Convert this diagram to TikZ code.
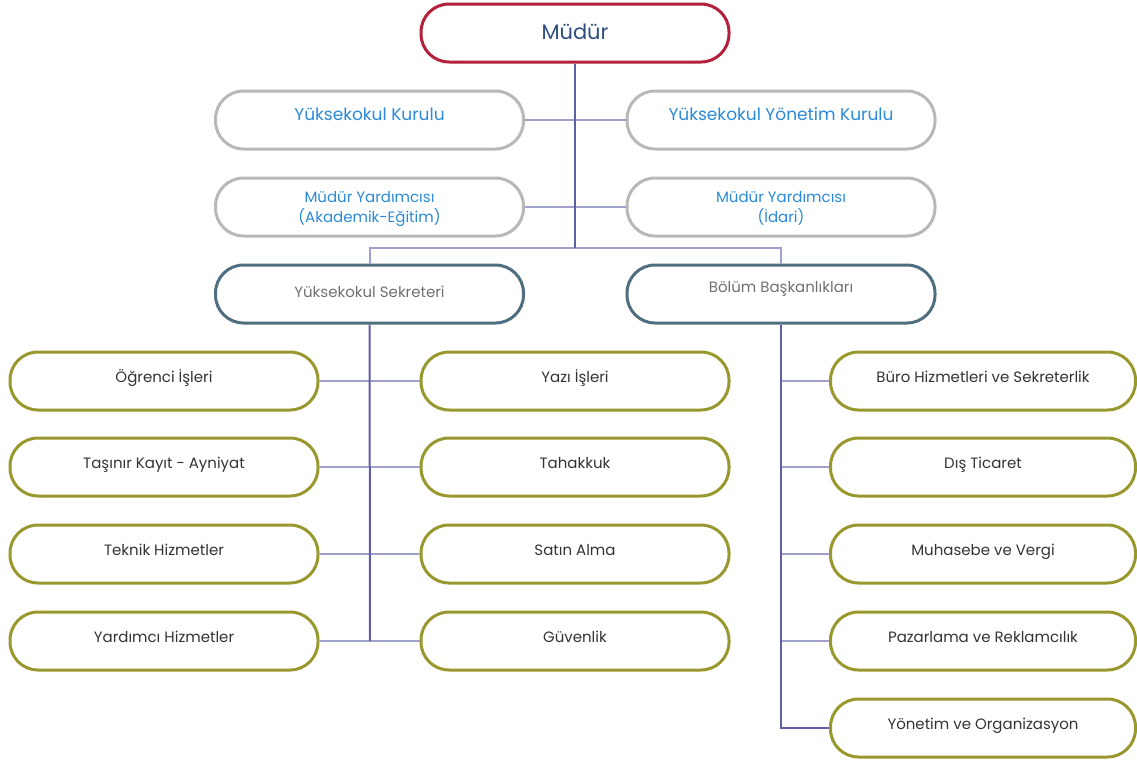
\documentclass[tikz,border=0pt]{standalone}
\usepackage{fontspec}
\setmainfont{Poppins}
\usepackage{xcolor}
\usepackage{tikz}
\usetikzlibrary{calc}
\definecolor{mudurred}{RGB}{179,32,59}
\definecolor{mudurtext}{RGB}{47,79,127}
\definecolor{kurulgrey}{RGB}{184,184,184}
\definecolor{kurultext}{RGB}{42,138,216}
\definecolor{slate}{RGB}{79,110,128}
\definecolor{slatetext}{RGB}{112,112,112}
\definecolor{olive}{RGB}{152,152,46}
\definecolor{unittext}{RGB}{51,51,51}
\definecolor{trunkline}{RGB}{95,95,165}
\definecolor{branchline}{RGB}{160,160,205}
\tikzstyle{box}=[draw,line width=1.5pt,rounded corners=14pt,minimum height=29pt,minimum width=154pt,inner sep=0pt,text height=7pt,text depth=6pt]
\tikzstyle{top}=[box,draw=mudurred,text=mudurtext,font=\fontsize{10.5}{12}\selectfont,text height=8pt,text depth=2pt]
\tikzstyle{kurul}=[box,draw=kurulgrey,text=kurultext,font=\fontsize{8.5}{10}\selectfont,text depth=7pt]
\tikzstyle{yard}=[box,draw=kurulgrey,text=kurultext,font=\fontsize{7.5}{10}\selectfont,align=center,text height=,text depth=-7pt]
\tikzstyle{head}=[box,draw=slate,text=slatetext,font=\fontsize{7.5}{9}\selectfont,text depth=4pt]
\tikzstyle{unit}=[box,draw=olive,text=unittext,font=\fontsize{7.5}{9}\selectfont]
\tikzstyle{runit}=[unit,minimum width=152.5pt]
\tikzstyle{trunk}=[line width=1pt,trunkline]
\tikzstyle{branch}=[line width=1pt,branchline]
\begin{document}
\begin{tikzpicture}[x=0.5pt,y=-0.5pt]
	\useasboundingbox (0,0) rectangle (1137,761);
	\node[top]   (mudur)    at (575,33)    {Müdür};
	\node[kurul] (kurul)    at (369.5,120) {Yüksekokul Kurulu};
	\node[kurul] (ykurul)   at (781,120)   {Yüksekokul Yönetim Kurulu};
	\node[yard]  (myakad)   at (369.5,207) {Müdür Yardımcısı\\(Akademik-Eğitim)};
	\node[yard]  (myidari)  at (781,207)   {Müdür Yardımcısı\\(İdari)};
	\node[head]  (sekreter) at (369.5,294) {Yüksekokul Sekreteri};
	\node[head,text depth=9pt] (bolum) at (781,294) {Bölüm Başkanlıkları};
	\node[unit]  (ogrenci)  at (164,381)   {Öğrenci İşleri};
	\node[unit]  (tasinir)  at (164,467)   {Taşınır Kayıt - Ayniyat};
	\node[unit]  (teknik)   at (164,554)   {Teknik Hizmetler};
	\node[unit]  (yardimci) at (164,641)   {Yardımcı Hizmetler};
	\node[unit]  (yazi)     at (575,381)   {Yazı İşleri};
	\node[unit]  (tahakkuk) at (575,467)   {Tahakkuk};
	\node[unit]  (satin)    at (575,554)   {Satın Alma};
	\node[unit]  (guvenlik) at (575,641)   {Güvenlik};
	\node[runit] (buro)     at (983,381)   {Büro Hizmetleri ve Sekreterlik};
	\node[runit] (dis)      at (983,467)   {Dış Ticaret};
	\node[runit] (muhasebe) at (983,554)   {Muhasebe ve Vergi};
	\node[runit] (pazar)    at (983,641)   {Pazarlama ve Reklamcılık};
	\node[runit] (yonetim)  at (983,728)   {Yönetim ve Organizasyon};
	\coordinate (split) at (575,248);
	\coordinate (secend) at (370,641);
	\draw[branch] (kurul) -- (ykurul);
	\draw[branch] (myakad) -- (myidari);
	\draw[branch] (sekreter.north) |- (split) -| (bolum.north);
	\draw[trunk] (mudur) -- (split);
	\draw[branch] (ogrenci) -- (yazi);
	\draw[branch] (tasinir) -- (tahakkuk);
	\draw[branch] (teknik) -- (satin);
	\draw[branch] (yardimci) -- (guvenlik);
	\draw[trunk] (sekreter) -- (secend);
	\draw[branch] (buro.west) -- (bolum.south |- buro.west);
	\draw[branch] (dis.west) -- (bolum.south |- dis.west);
	\draw[branch] (muhasebe.west) -- (bolum.south |- muhasebe.west);
	\draw[branch] (pazar.west) -- (bolum.south |- pazar.west);
	\draw[trunk] (bolum) |- (yonetim);
\end{tikzpicture}
\end{document}
